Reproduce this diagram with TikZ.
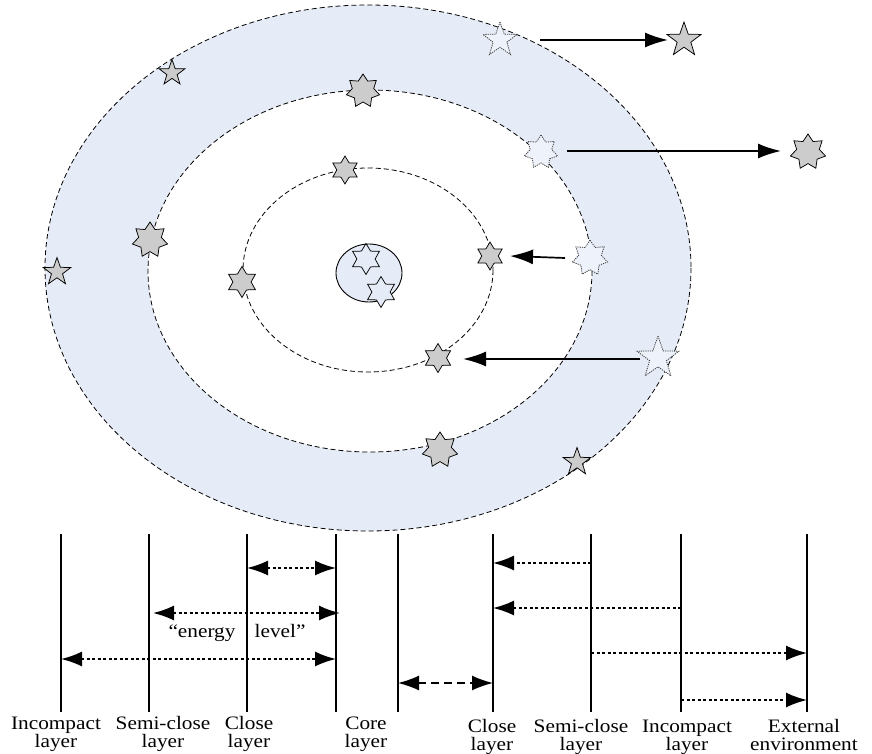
\documentclass[tikz,border=0pt]{standalone}
\usepackage{fontspec}
\setmainfont{Liberation Serif}
\usetikzlibrary{shapes.geometric,arrows.meta}
\definecolor{ringblue}{HTML}{E6ECF7}
\definecolor{stargray}{HTML}{CCCCCC}
\definecolor{ghost}{HTML}{EEF2FA}
\newcommand{\labtxt}[2]{\scalebox{1.12}[1]{\begin{tabular}[t]{@{}c@{}}#1\\#2\end{tabular}}}
\tikzset{
  orbit/.style={draw=black, line width=0.8pt, dash pattern=on 5pt off 3pt},
  gstar/.style={star, star points=#1, draw=black, line width=0.75pt, fill=stargray, inner sep=0pt},
  lstar/.style={star, star points=#1, draw=black!75, line width=0.8pt, dash pattern=on 1.2pt off 1pt, fill=ghost, inner sep=0pt},
  cstar/.style={star, star points=6, star point ratio=1.7, draw=black, line width=0.75pt, fill=ringblue, inner sep=0pt, minimum size=31pt},
  p5/.style={star point ratio=2.5},
  p6/.style={star point ratio=1.7},
  p7/.style={star point ratio=1.55},
  bigarr/.style={line width=1.7pt, -{Latex[length=23pt,width=15pt]}},
  vline/.style={line width=2.5pt},
  darr/.style={line width=1.8pt, dash pattern=on 3pt off 2.5pt, {Latex[length=21pt,width=15pt]}-{Latex[length=21pt,width=15pt]}},
  rarr/.style={line width=1.8pt, dash pattern=on 3pt off 2.5pt, -{Latex[length=21pt,width=15pt]}},
  larr/.style={line width=1.5pt, dash pattern=on 8pt off 5pt, {Latex[length=21pt,width=15pt]}-{Latex[length=21pt,width=15pt]}},
  lab/.style={font=\fontsize{19}{18}\selectfont, inner sep=0pt, anchor=base},
}
\begin{document}
\begin{tikzpicture}[x=1pt,y=-1pt]
\useasboundingbox (0,0) rectangle (872,754);
% ring fill
\fill[ringblue] (368,268) ellipse [x radius=323, y radius=263];
\fill[white] (370,271) ellipse [x radius=222, y radius=181];
% orbits
\draw[orbit] (368,268) ellipse [x radius=323, y radius=263];
\draw[orbit] (370,271) ellipse [x radius=222, y radius=181];
\draw[orbit] (368,270) ellipse [x radius=125, y radius=102];
% core
\draw[fill=ringblue, line width=0.9pt] (369,273) ellipse [x radius=33, y radius=29];
\node[cstar] (c1) at (366,259) {};
\node[cstar] (c2) at (381,292) {};
% stars on orbits
\node[gstar=5, p5, minimum size=27pt] (s1) at (172,73) {};
\node[gstar=7, p7, minimum size=34pt] (s2) at (363,91) {};
\node[gstar=6, p6, minimum size=28pt] (s3) at (345,170) {};
\node[gstar=7, p7, minimum size=36pt] (s4) at (150,240) {};
\node[gstar=5, p5, minimum size=29pt] (s5) at (57,272) {};
\node[gstar=6, p6, minimum size=31pt] (s6) at (242,282) {};
\node[gstar=6, p6, minimum size=28pt] (sF) at (490,256) {};
\node[gstar=6, p6, minimum size=29pt] (sH) at (438,358) {};
\node[gstar=7, p7, minimum size=36pt] (s9) at (440,450) {};
\node[gstar=5, p5, minimum size=29pt] (s10) at (577,462) {};
% moving stars
\node[lstar=5, p5, minimum size=36pt] (sA) at (500,40) {};
\node[gstar=5, p5, minimum size=36pt] (sB) at (684,40) {};
\node[lstar=7, p7, minimum size=34pt] (sC) at (541,152) {};
\node[gstar=7, p7, minimum size=36pt] (sD) at (808,152) {};
\node[lstar=7, p7, minimum size=36pt] (sE) at (590,258) {};
\node[lstar=5, p5, minimum size=44pt] (sG) at (658,358) {};
% movement arrows
\draw[bigarr] ([xshift=40pt]sA.center) -- ([xshift=-16pt]sB.center);
\draw[bigarr] ([xshift=26pt,yshift=1pt]sC.center) -- ([xshift=-27pt,yshift=1pt]sD.center);
\draw[bigarr] ([xshift=-25pt]sE.center) -- ([xshift=20pt]sF.center);
\draw[bigarr] ([xshift=-18pt,yshift=-1pt]sG.center) -- ([xshift=25pt,yshift=-1pt]sH.center);
% vertical layer lines
\foreach \n/\x in {1/61,2/149,3/247,4/336,5/398,6/493,7/591,8/681,9/807}{
  \coordinate (t\n) at (\x,534);
  \coordinate (b\n) at (\x,712);
  \draw[vline] (t\n) -- (b\n);
}
% energy level arrows, left side
\draw[darr] (t3 |- 0,568) -- (t4 |- 0,568);
\draw[darr] ([xshift=4pt]t2 |- 0,613) -- ([xshift=4pt]t4 |- 0,613);
\node[font=\fontsize{19}{19}\selectfont, inner sep=0pt, anchor=base] (el) at (237,637) {\scalebox{1.12}[1]{“energy\hspace{0.9em}level”}};
\draw[darr] (t1 |- 0,659) -- (t4 |- 0,659);
\draw[larr] (t5 |- 0,683) -- (t6 |- 0,683);
% right side
\draw[rarr] (t7 |- 0,563) -- (t6 |- 0,563);
\draw[rarr] (t8 |- 0,608) -- (t6 |- 0,608);
\draw[rarr] (t7 |- 0,653) -- (t9 |- 0,653);
\draw[rarr] (t8 |- 0,700) -- (t9 |- 0,700);
% labels
\node[lab] (l1) at (56,729) {\labtxt{Incompact}{layer}};
\node[lab] (l2) at (163,729) {\labtxt{Semi-close}{layer}};
\node[lab] (l3) at (249,729) {\labtxt{Close}{layer}};
\node[lab] (l4) at (366,729) {\labtxt{Core}{layer}};
\node[lab] (l5) at (492,732) {\labtxt{Close}{layer}};
\node[lab] (l6) at (581,732) {\labtxt{Semi-close}{layer}};
\node[lab] (l7) at (687,732) {\labtxt{Incompact}{layer}};
\node[lab] (l8) at (804,732) {\labtxt{External}{environment}};
\end{tikzpicture}
\end{document}
